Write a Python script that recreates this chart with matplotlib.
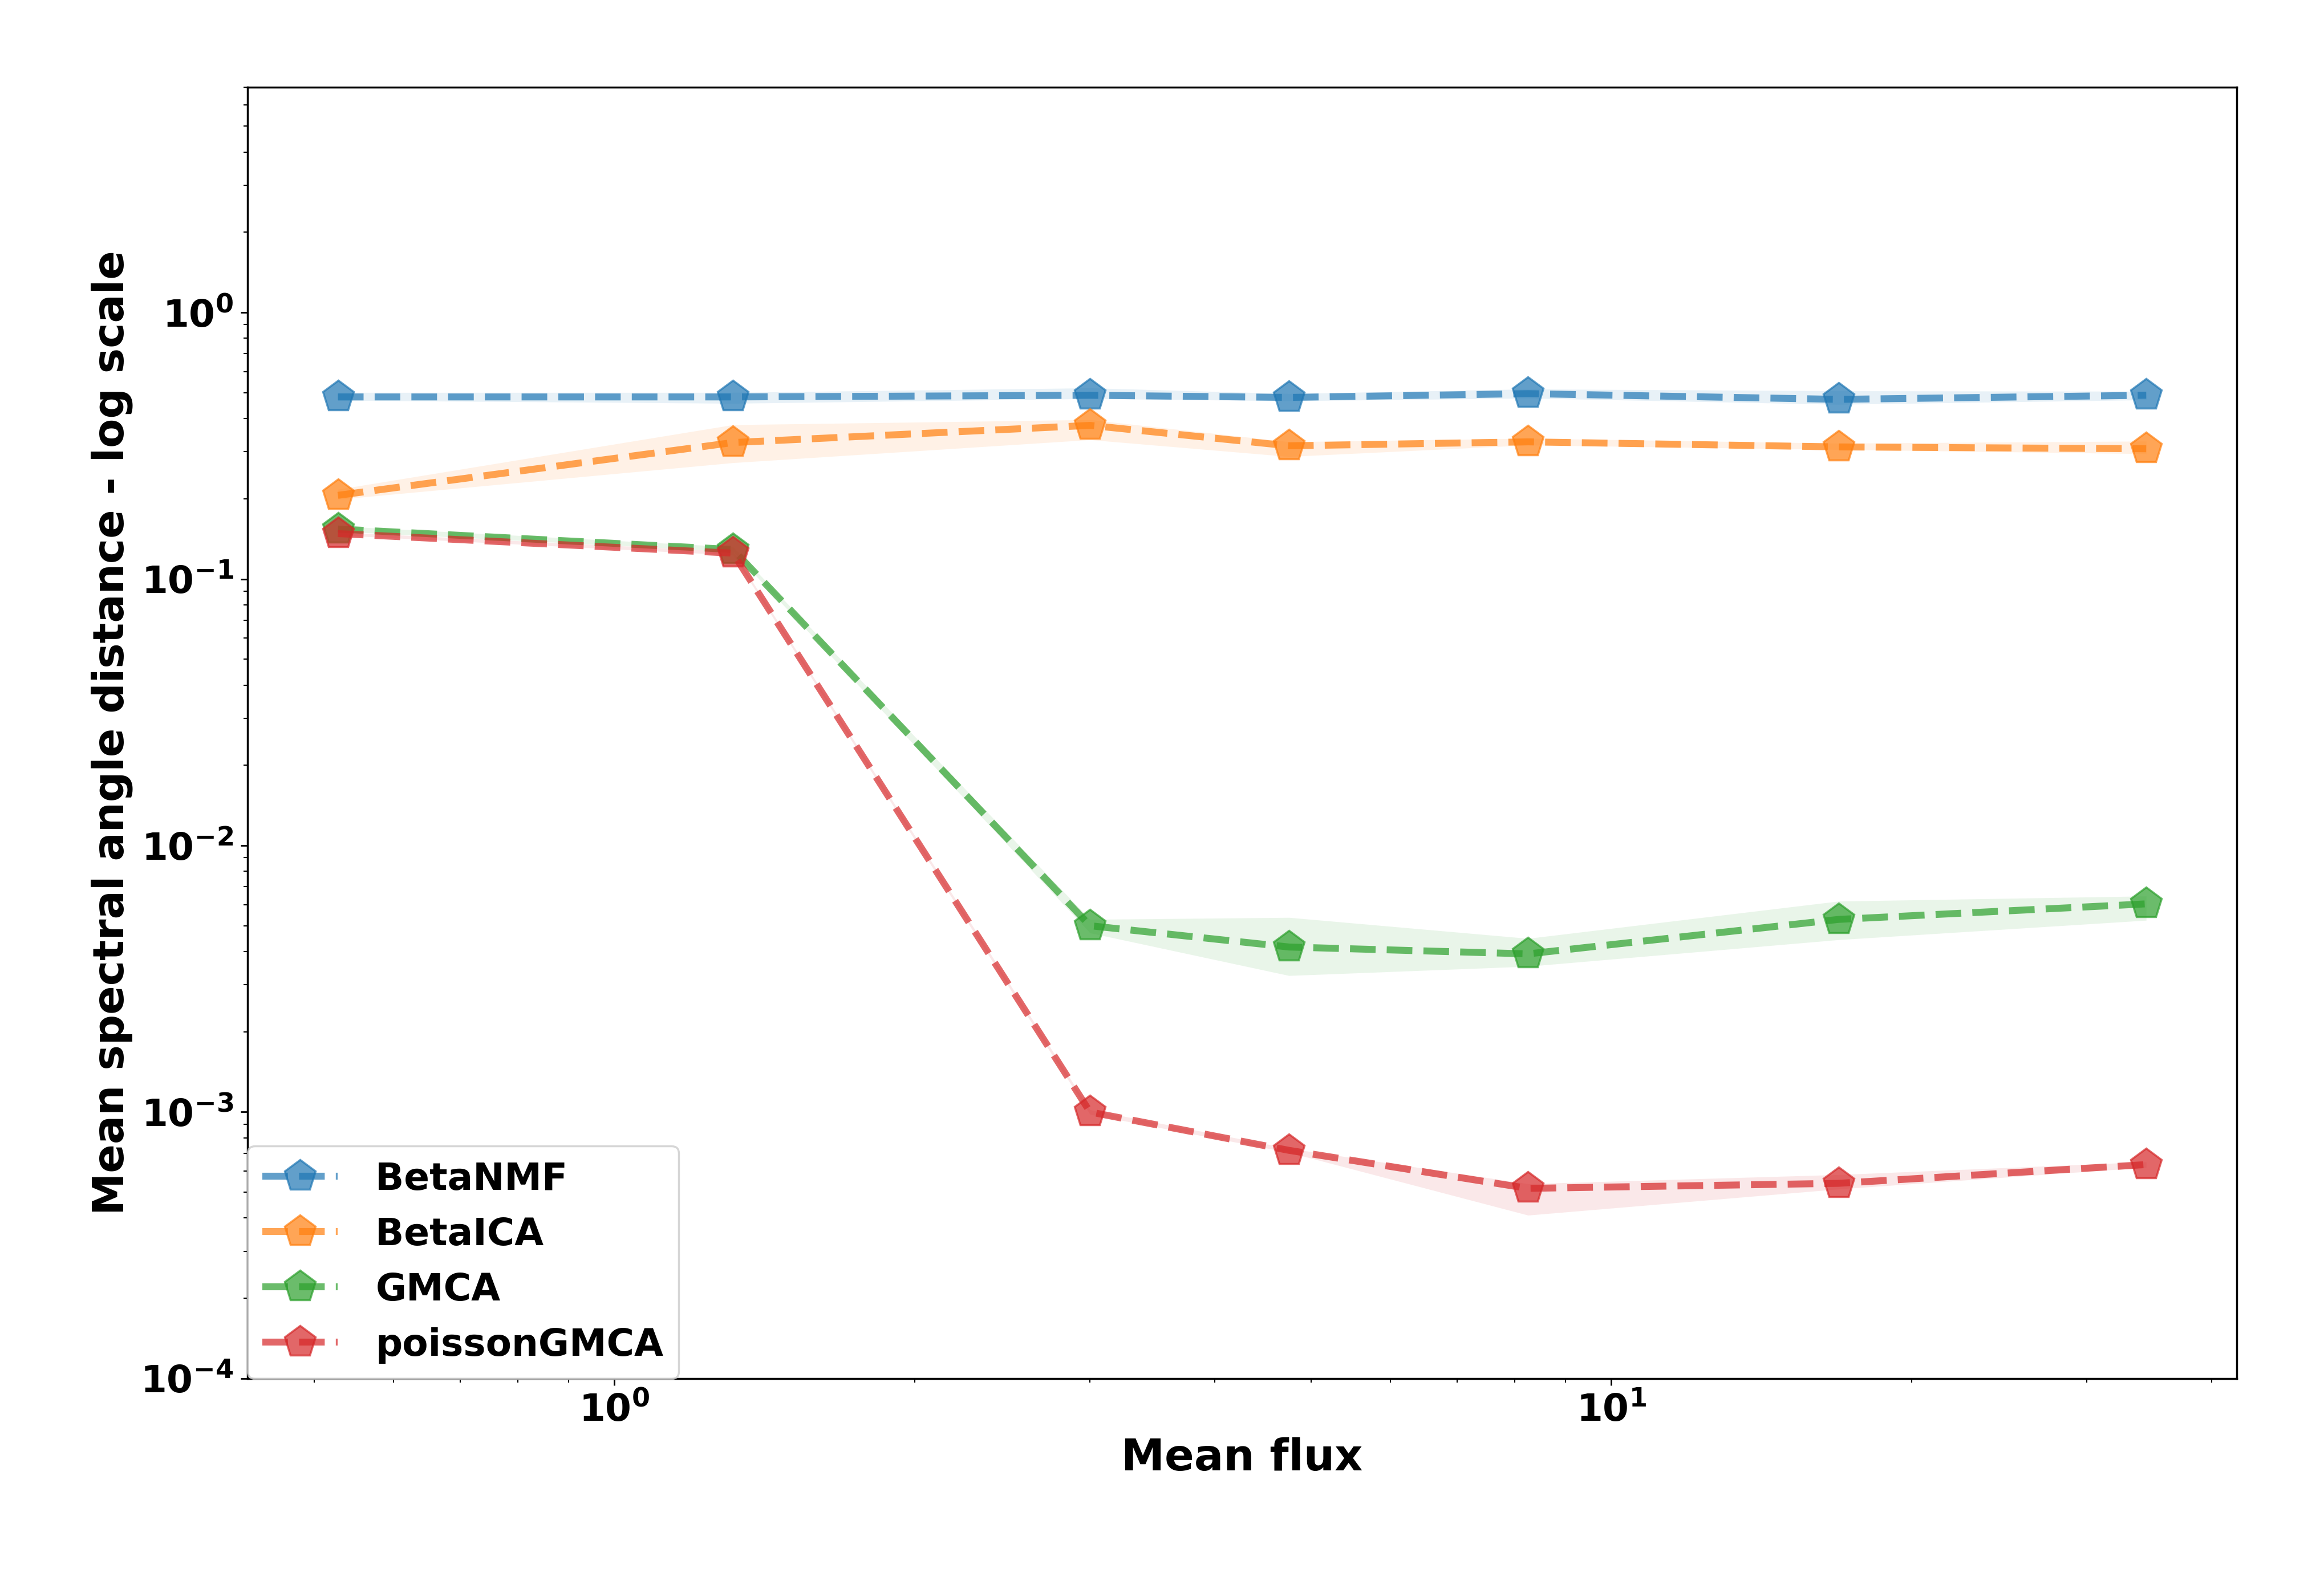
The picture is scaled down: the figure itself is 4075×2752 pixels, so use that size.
import matplotlib
matplotlib.use("Agg")
import matplotlib.pyplot as plt

# Mean flux values (x axis)
flux = [0.528, 1.315, 3.0, 4.75, 8.25, 16.9, 34.4]

# Mean spectral angle distance per method, with lower / upper band
betanmf = [0.482, 0.482, 0.489, 0.480, 0.496, 0.472, 0.489]
betanmf_lo = [0.468, 0.456, 0.475, 0.466, 0.477, 0.452, 0.470]
betanmf_hi = [0.501, 0.501, 0.521, 0.496, 0.516, 0.508, 0.506]

betaica = [0.206, 0.325, 0.377, 0.316, 0.327, 0.313, 0.308]
betaica_lo = [0.199, 0.273, 0.333, 0.288, 0.318, 0.306, 0.295]
betaica_hi = [0.217, 0.379, 0.396, 0.327, 0.337, 0.323, 0.329]

gmca = [0.154, 0.129, 0.0050, 0.00416, 0.00392, 0.00528, 0.00604]
gmca_lo = [0.151, 0.127, 0.0047, 0.00325, 0.00352, 0.00443, 0.00524]
gmca_hi = [0.158, 0.132, 0.00528, 0.00537, 0.00448, 0.00618, 0.00646]

poisson = [0.148, 0.125, 0.00100, 0.000718, 0.000517, 0.00054, 0.000635]
poisson_lo = [0.146, 0.123, 0.00098, 0.000705, 0.00041, 0.000514, 0.00062]
poisson_hi = [0.150, 0.127, 0.00102, 0.00073, 0.000538, 0.000582, 0.00065]

methods = ["BetaNMF", "BetaICA", "GMCA", "poissonGMCA"]
means = [betanmf, betaica, gmca, poisson]
lows = [betanmf_lo, betaica_lo, gmca_lo, poisson_lo]
highs = [betanmf_hi, betaica_hi, gmca_hi, poisson_hi]
colors = ["tab:blue", "tab:orange", "tab:green", "tab:red"]

plt.rcParams['font.weight'] = 'bold'
plt.rcParams['axes.labelweight'] = 'bold'
plt.rcParams['axes.linewidth'] = 1.0

fig = plt.figure(figsize=(16.3, 11.008), dpi=250)
ax = fig.add_axes([0.1065, 0.1214, 0.8559, 0.8230])

for name, m, lo, hi, c in zip(methods, means, lows, highs, colors):
    ax.plot(flux, m, '--p', color=c, lw=3.5, ms=16.5, alpha=0.7, label=name)
    ax.fill_between(flux, lo, hi, color=c, alpha=0.1, lw=0)

ax.set_xscale('log')
ax.set_yscale('log')
ax.set_ylim(1e-4, 7.0)
ax.set_xlabel("Mean flux", fontsize=22)
ax.set_ylabel("Mean spectral angle distance - log scale", fontsize=21.5)
ax.tick_params(axis='both', which='major', labelsize=19)
ax.legend(loc='lower left', fontsize=19, borderaxespad=0, handletextpad=1.0)

fig.savefig("out.png", dpi=250)
